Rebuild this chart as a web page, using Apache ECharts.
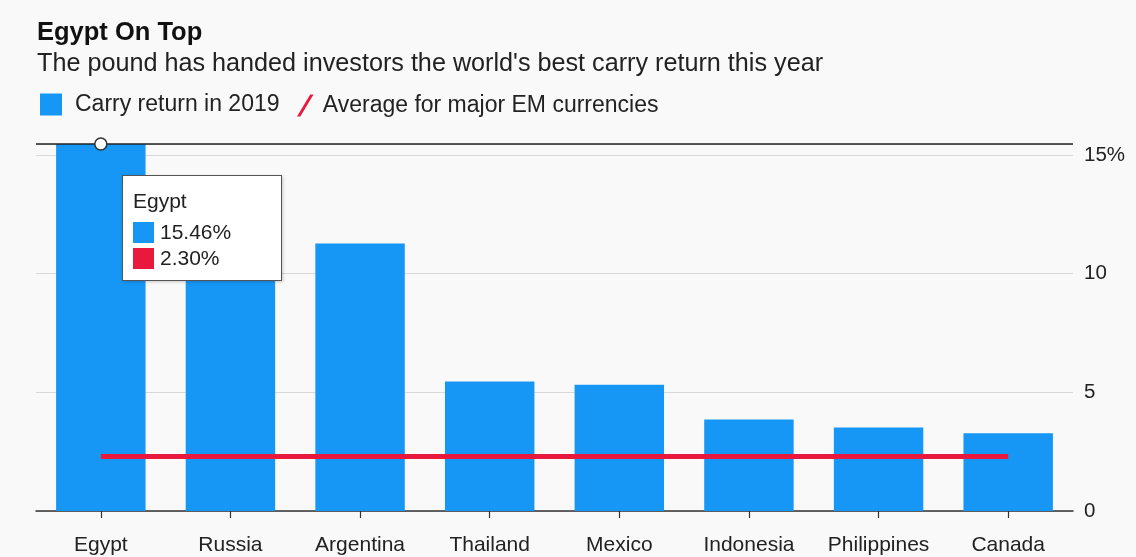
<!DOCTYPE html>
<html>
<head>
<meta charset="utf-8">
<script src="https://cdn.jsdelivr.net/npm/echarts@6/dist/echarts.min.js"></script>
<style>
  html, body { margin: 0; padding: 0; background: #f9f9f9; }
  #chart { width: 1136px; height: 557px; }
</style>
</head>
<body>
<div id="chart"></div>
<script>
// ---- data ----
const categories = ['Egypt', 'Russia', 'Argentina', 'Thailand', 'Mexico', 'Indonesia', 'Philippines', 'Canada'];
const carryReturn = [15.46, 12.8, 11.27, 5.45, 5.32, 3.85, 3.52, 3.27];
const emAverage = [2.30, 2.30, 2.30, 2.30, 2.30, 2.30, 2.30, 2.30];
const yTicks = [0, 5, 10, 15];
const titleText = 'Egypt On Top';
const subtitleText = "The pound has handed investors the world's best carry return this year";
const seriesNames = ['Carry return in 2019', 'Average for major EM currencies'];

const BLUE = '#1697f6';
const RED = '#e8193c';
const FONT = '"Liberation Sans", Arial, sans-serif';
const CSSFONT = "'Liberation Sans', Arial, sans-serif";

const chart = echarts.init(document.getElementById('chart'), null, { renderer: 'canvas' });

const option = {
  animation: false,
  backgroundColor: '#f9f9f9',
  textStyle: { fontFamily: FONT },
  title: [
    { text: titleText, left: 37, top: 20, padding: 0, textStyle: { fontFamily: FONT, fontSize: 25.5, fontWeight: 'bold', color: '#111' } },
    { text: subtitleText, left: 37, top: 52, padding: 0, textStyle: { fontFamily: FONT, fontSize: 25.2, fontWeight: 'normal', color: '#222' } }
  ],
  legend: [
    {
      data: [{ name: seriesNames[0], icon: 'rect' }],
      left: 40, top: 93, padding: 0, itemWidth: 22, itemHeight: 22,
      textStyle: { fontFamily: FONT, fontSize: 23, color: '#222', padding: [0, 0, 0, 8] },
      selectedMode: false
    },
    {
      data: [{ name: seriesNames[1], icon: 'path://M12,0 L15,0 L3,20 L0,20 Z' }],
      left: 297, top: 94, padding: 0, itemWidth: 17, itemHeight: 22,
      textStyle: { fontFamily: FONT, fontSize: 23, color: '#222', padding: [0, 0, 0, 4] },
      selectedMode: false
    }
  ],
  grid: { left: 36, right: 63, top: 144, bottom: 46, containLabel: false },
  tooltip: {
    trigger: 'axis',
    triggerOn: 'none',
    alwaysShowContent: true,
    transitionDuration: 0,
    axisPointer: { type: 'none' },
    position: [122, 175],
    backgroundColor: '#ffffff',
    borderColor: '#555',
    borderWidth: 1,
    padding: [12, 10, 9, 10],
    extraCssText: 'border-radius:0;box-shadow:1px 1px 3px rgba(0,0,0,0.2);',
    formatter: function (params) {
      const name = params[0].name;
      let html = '<div style="font-family:' + CSSFONT + ';color:#222;font-size:21px;line-height:26px;height:26px;width:138px;margin-bottom:5px;">' + name + '</div>';
      params.forEach(function (p) {
        html += '<div style="font-family:' + CSSFONT + ';color:#222;font-size:21px;line-height:26px;height:26px;display:flex;align-items:center;">' +
          '<span style="display:inline-block;width:21px;height:21px;background:' + p.color + ';margin-right:6px;"></span>' +
          p.value.toFixed(2) + '%</div>';
      });
      return html;
    }
  },
  xAxis: {
    type: 'category',
    data: categories,
    boundaryGap: true,
    axisLine: { show: true, lineStyle: { color: '#333', width: 1.5 } },
    axisTick: { show: true, alignWithLabel: true, length: 7, interval: 0, lineStyle: { color: '#333', width: 1.2 } },
    axisLabel: { fontFamily: FONT, fontSize: 21, color: '#222', margin: 24, interval: 0 },
    splitLine: { show: false }
  },
  yAxis: {
    type: 'value',
    position: 'right',
    min: 0,
    max: Math.max.apply(null, carryReturn),
    interval: 5,
    axisLine: { show: false },
    axisTick: { show: false },
    splitLine: { show: true, lineStyle: { color: '#d8d8d8', width: 1.2 } },
    axisLabel: {
      fontFamily: FONT, fontSize: 20.5, color: '#222', margin: 11,
      formatter: function (v) {
        if (yTicks.indexOf(v) < 0) return '';
        return v === yTicks[yTicks.length - 1] ? v + '%' : String(v);
      }
    }
  },
  series: [
    {
      name: seriesNames[0],
      type: 'bar',
      data: carryReturn,
      barCategoryGap: '31%',
      itemStyle: { color: BLUE },
      color: BLUE,
      emphasis: { disabled: true },
      markLine: {
        silent: true,
        symbol: 'none',
        label: { show: false },
        emphasis: { disabled: true },
        lineStyle: { color: '#222', width: 1.5, type: 'solid' },
        data: [{ yAxis: carryReturn[0] }]
      },
      markPoint: {
        silent: true,
        symbol: 'circle',
        symbolSize: 12,
        itemStyle: { color: '#ffffff', borderColor: '#333', borderWidth: 1.5 },
        label: { show: false },
        data: [{ coord: [categories[0], carryReturn[0]] }]
      }
    },
    {
      name: seriesNames[1],
      type: 'line',
      data: emAverage,
      color: RED,
      showSymbol: false,
      symbol: 'none',
      emphasis: { disabled: true },
      lineStyle: { color: RED, width: 5 },
      itemStyle: { color: RED },
      z: 3
    }
  ]
};

chart.setOption(option);
chart.dispatchAction({ type: 'showTip', seriesIndex: 0, dataIndex: 0 });
</script>
</body>
</html>
